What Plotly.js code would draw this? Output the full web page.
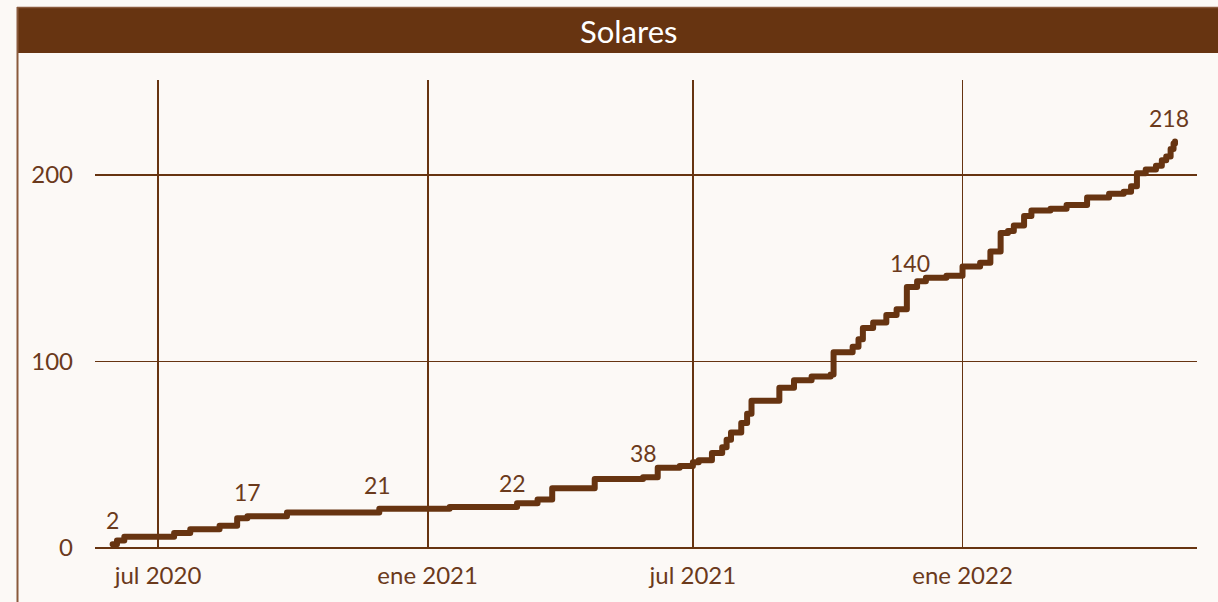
<!DOCTYPE html>
<html>
<head>
<meta charset="utf-8">
<script src="https://cdn.plot.ly/plotly-3.0.1.min.js"></script>
<style>
  html, body { margin: 0; padding: 0; background: #FCF9F6; }
  #chart { width: 1218px; height: 602px; }
  .scatterlayer path.js-line { stroke-linejoin: round !important; stroke-linecap: round !important; }
</style>
</head>
<body>
<div id="chart"></div>
<script>
const dates = [
  '2020-05-31','2020-06-03','2020-06-08','2020-07-12','2020-07-23','2020-08-12','2020-08-24','2020-08-31',
  '2020-09-27','2020-11-29','2021-01-16','2021-03-03','2021-03-17','2021-03-27','2021-04-25','2021-05-28',
  '2021-06-07','2021-06-22','2021-07-01','2021-07-05','2021-07-14','2021-07-21','2021-07-24','2021-07-27',
  '2021-08-03','2021-08-07','2021-08-10','2021-08-29','2021-09-08','2021-09-20','2021-10-03','2021-10-05',
  '2021-10-18','2021-10-22','2021-10-25','2021-11-01','2021-11-10','2021-11-17','2021-11-24','2021-12-01',
  '2021-12-07','2021-12-21','2022-01-01','2022-01-13','2022-01-20','2022-01-27','2022-02-01','2022-02-05',
  '2022-02-12','2022-02-17','2022-03-02','2022-03-13','2022-03-27','2022-04-11','2022-04-21','2022-04-26',
  '2022-04-30','2022-05-06','2022-05-13','2022-05-17','2022-05-20','2022-05-23','2022-05-25','2022-05-26'
];
const solares = [
  2, 4, 6, 8, 10, 12, 16, 17,
  19, 21, 22, 24, 26, 32, 37, 38,
  43, 44, 46, 47, 51, 54, 58, 62,
  67, 72, 79, 86, 90, 92, 93, 105,
  108, 112, 118, 121, 125, 128, 140, 143,
  145, 146, 151, 153, 159, 169, 170, 173,
  178, 181, 182, 184, 188, 190, 191, 194,
  201, 203, 205, 208, 210, 214, 217, 218
];
const labelDates = ['2020-05-31','2020-08-31','2020-11-28','2021-02-28','2021-05-28','2021-11-26','2022-05-22'];
const labelValues = [2, 17, 21, 22, 38, 140, 218];
const tickVals = ['2020-07-01','2021-01-01','2021-07-01','2022-01-01'];
const tickLabels = ['jul 2020','ene 2021','jul 2021','ene 2022'];
const yTicks = [0, 100, 200];

const brown = '#673411';
const textBrown = '#6B3A1C';
const font = 'Lato, "Open Sans", sans-serif';

const W = 1218, H = 602, L = 95, R = 21, T = 80, B = 54;
const pw = W - L - R, ph = H - T - B;
const px = x => (x - L) / pw;
const py = y => (H - B - y) / ph;

const trace = {
  x: dates, y: solares, type: 'scatter', mode: 'lines',
  line: { shape: 'hv', color: brown, width: 6 },
  hoverinfo: 'x+y'
};

const annotations = labelDates.map((d, i) => ({
  x: d, y: labelValues[i], xref: 'x', yref: 'y', text: String(labelValues[i]),
  showarrow: false, yshift: 24, font: { family: font, size: 23, color: textBrown }
}));
annotations.push({
  x: px(628), y: py(31), xref: 'paper', yref: 'paper', text: 'Solares',
  showarrow: false, xanchor: 'center', yanchor: 'middle',
  font: { family: font, size: 31, color: '#FFFFFF' }
});

const layout = {
  width: W, height: H,
  margin: { l: L, r: R, t: T, b: B, pad: 0 },
  paper_bgcolor: '#FCF9F6', plot_bgcolor: '#FCF9F6',
  showlegend: false,
  xaxis: {
    type: 'date', range: ['2020-05-19', '2022-06-10'],
    tickvals: tickVals, ticktext: tickLabels,
    showgrid: true, gridcolor: brown, gridwidth: 1.8,
    zeroline: false, showline: false, ticks: '',
    tickfont: { family: font, size: 24, color: textBrown },
    ticklabelstandoff: 11
  },
  yaxis: {
    range: [0, 251], tickvals: yTicks,
    showgrid: true, gridcolor: brown, gridwidth: 1.6,
    zeroline: true, zerolinecolor: brown, zerolinewidth: 1.6,
    showline: false, ticks: '',
    tickfont: { family: font, size: 24, color: textBrown },
    ticklabelstandoff: 21
  },
  shapes: [
    { type: 'rect', xref: 'paper', yref: 'paper', x0: px(17), x1: px(1220), y0: py(53), y1: py(7),
      fillcolor: brown, line: { width: 0 }, layer: 'above' },
    { type: 'line', xref: 'paper', yref: 'paper', x0: px(17.5), x1: px(17.5), y0: py(7), y1: py(604),
      line: { color: '#8A5A3C', width: 2 }, layer: 'above' },
    { type: 'line', xref: 'paper', yref: 'paper', x0: px(17), x1: px(1220), y0: py(7.5), y1: py(7.5),
      line: { color: '#8A5A3C', width: 1.5 }, layer: 'above' }
  ],
  annotations: annotations
};

Plotly.newPlot('chart', [trace], layout, { displayModeBar: false, staticPlot: true });
</script>
</body>
</html>
